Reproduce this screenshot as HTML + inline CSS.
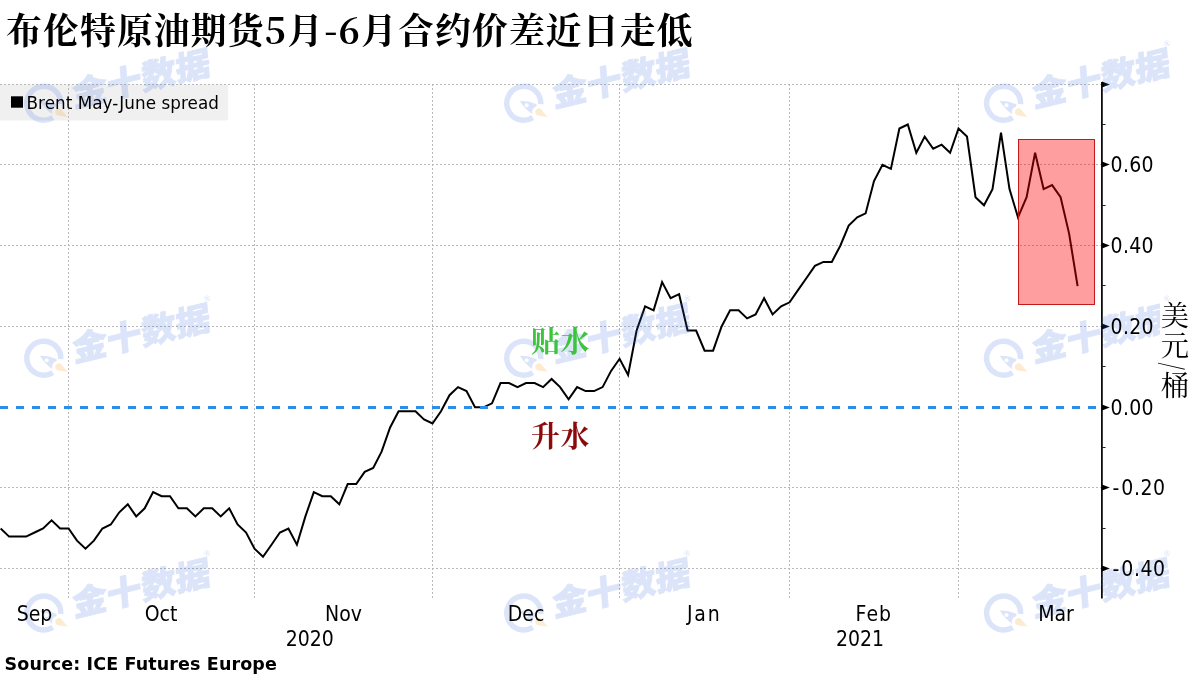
<!DOCTYPE html>
<html lang="zh"><head><meta charset="utf-8"><title>布伦特原油期货5月-6月合约价差近日走低</title>
<style>
html,body{margin:0;padding:0;background:#fff;}
body{width:1200px;height:675px;position:relative;overflow:hidden;font-family:'DejaVu Sans Condensed','DejaVu Sans','Liberation Sans',sans-serif;color:#000;}
.t{position:absolute;white-space:nowrap;line-height:1;}
.title{left:6px;top:10.5px;letter-spacing:1.17px;font-family:"Noto Serif CJK SC","Liberation Serif",serif;font-weight:700;font-size:35.8px;}
.yl{left:1110.6px;font-size:21px;letter-spacing:0.3px;}
.xl{font-size:21px;top:603.8px;transform:translateX(-50%);}
.yr{font-size:21px;top:629px;transform:translateX(-50%);}
.leg{left:26.5px;top:95.3px;font-size:16.8px;letter-spacing:0.05px;font-family:'DejaVu Sans','Liberation Sans',sans-serif;}
.src{left:4.6px;top:655.8px;font-size:17.5px;letter-spacing:0.12px;font-weight:700;font-family:'DejaVu Sans','Liberation Sans',sans-serif;}
.unit{left:1159.5px;top:301px;writing-mode:vertical-rl;font-family:"Noto Serif CJK SC","Liberation Serif",serif;font-size:28.3px;letter-spacing:1.5px;font-weight:400;line-height:31px;background:#fff;padding:0 0 3px 0;}
.sl{display:inline-block;transform:scaleY(0.74);margin:0.2px 0 -1px 0;}
.ann{font-family:"Liberation Serif","Noto Serif CJK SC",serif;font-weight:700;font-size:29px;left:531px;letter-spacing:0.5px;}
</style></head><body>
<svg width="1200" height="675" viewBox="0 0 1200 675" style="position:absolute;left:0;top:0">
<defs>
<mask id="wmm" maskUnits="userSpaceOnUse" x="-26" y="-26" width="52" height="52"><rect x="-26" y="-26" width="52" height="52" fill="#fff"/><circle cx="14" cy="8.7" r="5.8" fill="#000"/><circle cx="2.9" cy="2" r="2" fill="#000"/></mask>
<g id="wmg">
<g mask="url(#wmm)">
<path d="M9,14.4 A17,17 0 1 1 16.98,0.9" fill="none" stroke="#3f6fe0" stroke-width="5.5"/>
<path d="M-3.9,-2.4 Q5,-2.6 12.9,1 Q12.6,7 8.3,10.8 Q1,5.5 -3.9,-2.4 Z" fill="#3f6fe0"/>
</g>
<g transform="rotate(-13.6)"><text x="28" y="10.8" font-family="'Liberation Sans','Noto Sans CJK SC',sans-serif" font-weight="900" font-size="33" fill="#3f6fe0" stroke="#3f6fe0" stroke-width="0.9" stroke-linejoin="round" transform="skewX(-9) scale(1.07,1)">金十数据</text><text x="170" y="-17" font-family="'Liberation Sans',sans-serif" font-size="8" font-weight="700" fill="#3f6fe0">®</text></g>
</g>
<g id="wmf"><path d="M23.8,13.6 L17.2,5.85 A3.6,3.6 0 1 0 14.2,12.2 Z" fill="#f5a623"/></g>
</defs>
<rect x="-3" y="84.5" width="231.2" height="36" rx="2.5" fill="#f0f0f0"/>
<line x1="0" y1="84.5" x2="1101" y2="84.5" stroke="#b8b8b8" stroke-width="1" stroke-dasharray="2 2"/>
<line x1="0" y1="164.5" x2="1101" y2="164.5" stroke="#b8b8b8" stroke-width="1" stroke-dasharray="2 2"/>
<line x1="0" y1="245.5" x2="1101" y2="245.5" stroke="#b8b8b8" stroke-width="1" stroke-dasharray="2 2"/>
<line x1="0" y1="326.5" x2="1101" y2="326.5" stroke="#b8b8b8" stroke-width="1" stroke-dasharray="2 2"/>
<line x1="0" y1="487.5" x2="1101" y2="487.5" stroke="#b8b8b8" stroke-width="1" stroke-dasharray="2 2"/>
<line x1="0" y1="568.5" x2="1101" y2="568.5" stroke="#b8b8b8" stroke-width="1" stroke-dasharray="2 2"/>
<line x1="68.5" y1="84" x2="68.5" y2="598" stroke="#b8b8b8" stroke-width="1" stroke-dasharray="2 2"/>
<line x1="254.5" y1="84" x2="254.5" y2="598" stroke="#b8b8b8" stroke-width="1" stroke-dasharray="2 2"/>
<line x1="432.5" y1="84" x2="432.5" y2="598" stroke="#b8b8b8" stroke-width="1" stroke-dasharray="2 2"/>
<line x1="619.5" y1="84" x2="619.5" y2="598" stroke="#b8b8b8" stroke-width="1" stroke-dasharray="2 2"/>
<line x1="789.5" y1="84" x2="789.5" y2="598" stroke="#b8b8b8" stroke-width="1" stroke-dasharray="2 2"/>
<line x1="958.5" y1="84" x2="958.5" y2="598" stroke="#b8b8b8" stroke-width="1" stroke-dasharray="2 2"/>
<polyline points="0.6,528.5 9.1,536.6 17.6,536.6 26.1,536.6 34.6,532.5 43.1,528.5 51.6,520.4 60.1,528.5 68.6,528.5 77.0,540.6 85.5,548.7 93.9,540.6 102.4,528.5 110.8,524.5 119.3,512.3 127.8,504.3 136.2,516.4 144.7,508.3 153.1,492.1 161.6,496.2 170.0,496.2 178.4,508.3 186.9,508.3 195.4,516.4 203.8,508.3 212.2,508.3 220.7,516.4 229.2,508.3 237.6,524.5 246.1,532.5 254.5,548.7 263.0,556.8 271.5,544.7 279.9,532.5 288.4,528.5 296.9,544.7 305.4,516.4 313.8,492.1 322.3,496.2 330.8,496.2 339.3,504.3 347.7,484.1 356.2,484.1 364.7,471.9 373.2,467.9 381.6,451.7 390.1,427.5 398.6,411.3 407.1,411.3 415.5,411.3 424.0,419.4 432.5,423.5 441.0,411.3 449.5,395.2 458.0,387.1 466.5,391.1 475.0,407.3 483.5,407.3 492.0,403.3 500.5,383.1 509.0,383.1 517.5,387.1 526.0,383.1 534.6,383.1 543.1,387.1 551.6,379.0 560.1,387.1 568.6,399.2 577.1,387.1 585.6,391.1 594.1,391.1 602.6,387.1 611.1,370.9 619.6,358.8 628.1,375.0 636.6,330.5 645.1,306.3 653.6,310.3 662.1,282.1 670.6,298.2 679.1,294.2 687.6,330.5 696.1,330.5 704.6,350.7 713.1,350.7 721.6,326.5 730.1,310.3 738.6,310.3 747.1,318.4 755.6,314.4 764.1,298.2 772.6,314.4 781.1,306.3 789.6,302.3 798.0,290.1 806.5,278.0 814.9,265.9 823.4,261.9 831.8,261.9 840.3,245.7 848.7,225.5 857.2,217.4 865.6,213.4 874.0,181.1 882.5,164.9 890.9,168.9 899.4,128.5 907.8,124.5 916.3,152.8 924.7,136.6 933.2,148.7 941.6,144.7 950.1,152.8 958.5,128.5 967.0,136.6 975.5,197.2 984.0,205.3 992.5,189.1 1001.0,132.6 1009.5,189.1 1018.0,217.4 1026.6,197.2 1035.1,152.8 1043.6,189.1 1052.1,185.1 1060.6,197.2 1069.1,233.6 1077.6,286.1" fill="none" stroke="#000" stroke-width="2" stroke-linejoin="miter" stroke-linecap="butt"/>
<line x1="0" y1="407.5" x2="1101" y2="407.5" stroke="#2f8de9" stroke-width="3" stroke-dasharray="8 8"/>
<rect x="1018.5" y="139.5" width="76" height="165" fill="rgba(255,0,0,0.38)" stroke="#c21a1a" stroke-width="1"/>
<line x1="1101.9" y1="82" x2="1101.9" y2="598.5" stroke="#000" stroke-width="1.7"/>
<path d="M1102,81.6 L1109.8,84.5 L1102,87.4 Z" fill="#000"/>
<path d="M1102,161.6 L1109.8,164.5 L1102,167.4 Z" fill="#000"/>
<path d="M1102,242.6 L1109.8,245.5 L1102,248.4 Z" fill="#000"/>
<path d="M1102,323.6 L1109.8,326.5 L1102,329.4 Z" fill="#000"/>
<path d="M1102,404.6 L1109.8,407.5 L1102,410.4 Z" fill="#000"/>
<path d="M1102,484.6 L1109.8,487.5 L1102,490.4 Z" fill="#000"/>
<path d="M1102,565.6 L1109.8,568.5 L1102,571.4 Z" fill="#000"/>
<line x1="1102" y1="124.5" x2="1105.6" y2="124.5" stroke="#222" stroke-width="1"/>
<line x1="1102" y1="205.5" x2="1105.6" y2="205.5" stroke="#222" stroke-width="1"/>
<line x1="1102" y1="285.5" x2="1105.6" y2="285.5" stroke="#222" stroke-width="1"/>
<line x1="1102" y1="366.5" x2="1105.6" y2="366.5" stroke="#222" stroke-width="1"/>
<line x1="1102" y1="447.5" x2="1105.6" y2="447.5" stroke="#222" stroke-width="1"/>
<line x1="1102" y1="528.5" x2="1105.6" y2="528.5" stroke="#222" stroke-width="1"/>
<rect x="11" y="96.3" width="12" height="11.4" fill="#000"/>
<use href="#wmg" x="43.8" y="103.3" opacity="0.18"/><use href="#wmf" x="43.8" y="103.3" opacity="0.22"/>
<use href="#wmg" x="523.8" y="103.3" opacity="0.18"/><use href="#wmf" x="523.8" y="103.3" opacity="0.22"/>
<use href="#wmg" x="1003.6" y="103.3" opacity="0.18"/><use href="#wmf" x="1003.6" y="103.3" opacity="0.22"/>
<use href="#wmg" x="43.8" y="358.2" opacity="0.18"/><use href="#wmf" x="43.8" y="358.2" opacity="0.22"/>
<use href="#wmg" x="523.8" y="358.2" opacity="0.18"/><use href="#wmf" x="523.8" y="358.2" opacity="0.22"/>
<use href="#wmg" x="1003.6" y="358.2" opacity="0.18"/><use href="#wmf" x="1003.6" y="358.2" opacity="0.22"/>
<use href="#wmg" x="43.8" y="613" opacity="0.18"/><use href="#wmf" x="43.8" y="613" opacity="0.22"/>
<use href="#wmg" x="523.8" y="613" opacity="0.18"/><use href="#wmf" x="523.8" y="613" opacity="0.22"/>
<use href="#wmg" x="1003.6" y="613" opacity="0.18"/><use href="#wmf" x="1003.6" y="613" opacity="0.22"/>
</svg>
<div class="t title">布伦特原油期货5月-6月合约价差近日走低</div>
<div class="t leg">Brent May-June spread</div>
<div class="t yl" style="top:155.3px">0.60</div>
<div class="t yl" style="top:236.3px">0.40</div>
<div class="t yl" style="top:317.3px">0.20</div>
<div class="t yl" style="top:398.3px">0.00</div>
<div class="t yl" style="top:478.3px;left:1112.6px;letter-spacing:0.55px"><span style="letter-spacing:1.9px">-</span>0.20</div>
<div class="t yl" style="top:559.3px;left:1112.6px;letter-spacing:0.55px"><span style="letter-spacing:1.9px">-</span>0.40</div>
<div class="t xl" style="left:34.5px;letter-spacing:0px">Sep</div>
<div class="t xl" style="left:161px;letter-spacing:0px">Oct</div>
<div class="t xl" style="left:343.5px;letter-spacing:0px">Nov</div>
<div class="t xl" style="left:526px;letter-spacing:0px">Dec</div>
<div class="t xl" style="left:704.2px;letter-spacing:1.8px">Jan</div>
<div class="t xl" style="left:873.9px;letter-spacing:1.1px">Feb</div>
<div class="t xl" style="left:1056px;letter-spacing:0px">Mar</div>
<div class="t yr" style="left:309.7px">2020</div>
<div class="t yr" style="left:860px">2021</div>
<div class="t ann" style="top:328px;color:#3cc43c">贴水</div>
<div class="t ann" style="top:423px;color:#8b0a0a">升水</div>
<div class="t unit">美元<span class="sl">/</span>桶</div>
<div class="t src">Source: ICE Futures Europe</div>
</body></html>
